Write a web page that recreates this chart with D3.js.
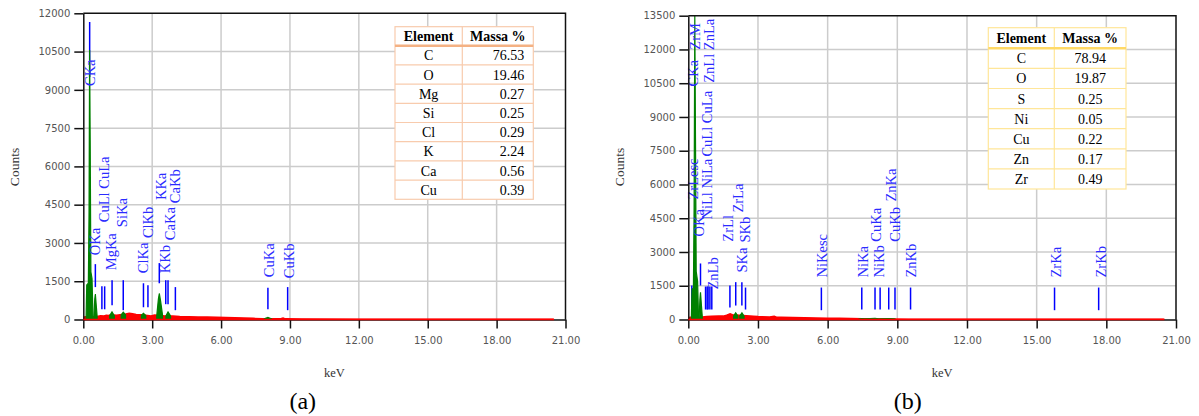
<!DOCTYPE html>
<html>
<head>
<meta charset="utf-8">
<script src="https://cdn.jsdelivr.net/npm/d3@7"></script>
<style>
  body { margin: 0; background: #fff; }
  svg { display: block; }
</style>
</head>
<body>
<svg id="fig" width="1199" height="416"></svg>
<script>
'use strict';

// ---- shared axis values ----
var xTicks = [0, 3, 6, 9, 12, 15, 18, 21];
var leftYTicks = [0, 1500, 3000, 4500, 6000, 7500, 9000, 10500, 12000];
var rightYTicks = [0, 1500, 3000, 4500, 6000, 7500, 9000, 10500, 12000, 13500];

// ---- (a) spectrum: background channels [keV, counts] ----
var leftBackground = [[0.03, 0], [0.07, 110], [0.6, 120], [0.75, 150], [0.9, 140], [1.0, 170], [1.1, 160],
  [1.2, 190], [1.45, 170], [1.6, 190], [1.85, 215], [2.0, 240], [2.15, 225], [2.3, 200], [2.5, 190],
  [2.8, 160], [2.95, 140], [3.1, 175], [3.5, 150], [3.9, 140], [4.2, 120], [4.6, 110], [5.0, 100],
  [5.4, 95], [5.8, 85], [6.2, 75], [6.6, 70], [7.0, 55], [7.4, 45], [7.8, 30], [8.6, 28], [8.7, 60],
  [8.8, 25], [9.5, 15], [12, 10], [20.45, 8], [20.5, 0]];
// ---- (a) identified peaks ----
var leftPeaks = [
  [[0.12, 0], [0.15, 1350], [0.22, 1420], [0.25, 4200], [0.275, 10560], [0.3, 7000], [0.33, 1870], [0.38, 1600], [0.42, 150]],
  [[0.46, 150], [0.5, 800], [0.525, 1000], [0.56, 600], [0.6, 150]],
  [[1.15, 150], [1.25, 300], [1.35, 150]],
  [[1.65, 180], [1.74, 285], [1.84, 190]],
  [[2.53, 170], [2.62, 240], [2.72, 160]],
  [[3.2, 160], [3.27, 800], [3.31, 1020], [3.37, 700], [3.45, 170]],
  [[3.6, 150], [3.69, 300], [3.8, 140]],
  [[7.88, 25], [8.04, 80], [8.2, 25]]
];
// ---- (a) KLM markers: energy, low / high counts ----
var leftMarkerEnergy = [0.277, 0.525, 0.81, 0.93, 1.253, 1.74, 2.62, 2.815, 3.31, 3.59, 3.69, 4.01, 8.04, 8.9];
var leftMarkerLow = [9500, 1270, 400, 400, 560, 365, 480, 480, 1420, 600, 600, 365, 400, 365];
var leftMarkerHigh = [11660, 2170, 1300, 1300, 1540, 1540, 1420, 1345, 2210, 1540, 1540, 1270, 1240, 1270];
// ---- (a) marker labels ----
var leftLabelText = ["CKa", "OKa", "CuLl CuLa", "MgKa", "SiKa", "ClKa", "ClKb", "KKa", "KKb", "CaKa", "CaKb", "CuKa", "CuKb"];
var leftLabelEnergy = [0.27, 0.51, 0.9, 1.21, 1.69, 2.6, 2.83, 3.37, 3.55, 3.79, 4.0, 8.07, 8.94];
var leftLabelCount = [9150, 2520, 3815, 1930, 3620, 1815, 3190, 4680, 1815, 3110, 4560, 1660, 1620];
// ---- (a) table ----
var leftElements = ["C", "O", "Mg", "Si", "Cl", "K", "Ca", "Cu"];
var leftMass = [76.53, 19.46, 0.27, 0.25, 0.29, 2.24, 0.56, 0.39];

// ---- (b) spectrum ----
var rightBackground = [[0.03, 0], [0.07, 100], [0.6, 110], [0.8, 130], [1.0, 150], [1.3, 160], [1.5, 150],
  [1.65, 190], [1.8, 250], [1.9, 210], [2.2, 190], [2.5, 170], [2.8, 150], [3.0, 130], [3.5, 110],
  [3.7, 140], [3.8, 105], [4.0, 100], [4.5, 90], [5.0, 80], [5.5, 70], [6.0, 60], [6.5, 55], [7.0, 45],
  [7.5, 35], [8.5, 25], [9.5, 15], [12, 10], [20.45, 8], [20.5, 0]];
var rightPeaks = [
  [[0.13, 0], [0.16, 1330], [0.22, 1400], [0.25, 5000], [0.28, 13500], [0.31, 8000], [0.34, 2145], [0.4, 1700], [0.44, 150]],
  [[0.47, 150], [0.5, 900], [0.525, 1210], [0.56, 700], [0.6, 150]],
  [[1.95, 150], [2.04, 300], [2.13, 160]],
  [[2.22, 160], [2.31, 300], [2.4, 150]],
  [[7.35, 20], [7.47, 45], [7.6, 25], [8.04, 50], [8.2, 25], [8.63, 40], [8.9, 25]]
];
var rightMarkerEnergy = [0.151, 0.525, 0.743, 0.811, 0.851, 0.93, 1.012, 1.792, 2.042, 2.307, 2.464,
  5.73, 7.47, 8.04, 8.26, 8.63, 8.9, 9.57, 15.77, 17.67];
var rightMarkerLow = [530, 1510, 444, 444, 444, 444, 444, 530, 620, 620, 444,
  413, 444, 444, 444, 444, 444, 444, 413, 413];
var rightMarkerHigh = [1510, 2490, 1465, 1465, 1465, 1465, 1465, 1510, 1660, 1660, 1420,
  1420, 1420, 1420, 1420, 1420, 1420, 1420, 1420, 1420];
var rightLabelText = ["ZrM", "ZnLl ZnLa", "CKa", "CuLl CuLa", "ZrLesc", "NiLl NiLa", "OKa", "ZnLb",
  "ZrLl", "ZrLa", "SKa", "SKb", "NiKesc", "NiKa", "NiKb", "CuKa", "CuKb", "ZnKa", "ZnKb", "ZrKa", "ZrKb"];
var rightLabelEnergy = [0.3, 0.9, 0.2, 0.81, 0.2, 0.8, 0.46, 1.07,
  1.72, 2.13, 2.32, 2.45, 5.77, 7.5, 8.2, 8.09, 8.89, 8.72, 9.58, 15.81, 17.76];
var rightLabelCount = [11990, 10520, 10350, 7240, 5330, 4440, 3690, 1330,
  3460, 4750, 2090, 3420, 1865, 1865, 1865, 3460, 3460, 5240, 1865, 1865, 1865];
var rightElements = ["C", "O", "S", "Ni", "Cu", "Zn", "Zr"];
var rightMass = [78.94, 19.87, 0.25, 0.05, 0.22, 0.17, 0.49];

var svg = d3.select('#fig');
var serif = '"Liberation Serif", "Times New Roman", serif';

function drawSpectrum(o) {
  var x = d3.scaleLinear().domain([0, 21]).range([o.left, o.right]);
  var y = d3.scaleLinear().domain([0, o.yMax]).range([o.bottom, o.top]);
  var g = svg.append('g');

  g.append('clipPath').attr('id', o.id + '-clip')
    .append('rect').attr('x', o.left).attr('y', o.top)
    .attr('width', o.right - o.left).attr('height', o.bottom - o.top);

  // grid
  g.selectAll('.vgrid').data(xTicks.slice(1, -1)).enter().append('line')
    .attr('x1', x).attr('x2', x).attr('y1', o.top).attr('y2', o.bottom)
    .attr('stroke', '#cccccc').attr('stroke-width', 1.5);
  g.selectAll('.hgrid').data(o.yTicks.slice(1, -1)).enter().append('line')
    .attr('x1', o.left).attr('x2', o.right).attr('y1', y).attr('y2', y)
    .attr('stroke', '#cccccc').attr('stroke-width', 1.5);

  // marker lines
  g.selectAll('.marker').data(o.markerEnergy).enter().append('line')
    .attr('x1', function(d) { return x(d); })
    .attr('x2', function(d) { return x(d); })
    .attr('y1', function(d, i) { return y(o.markerLow[i]); })
    .attr('y2', function(d, i) { return y(o.markerHigh[i]); })
    .attr('stroke', '#0000ff').attr('stroke-width', 1.5);

  var area = d3.area()
    .x(function(d) { return x(d[0]); })
    .y0(y(0))
    .y1(function(d) { return y(d[1]); });

  var spec = g.append('g').attr('clip-path', 'url(#' + o.id + '-clip)');
  spec.append('path').datum(o.background).attr('d', area)
    .attr('fill', '#ff0000').attr('stroke', '#ff0000').attr('stroke-width', 1.5);
  spec.selectAll('.peak').data(o.peaks).enter().append('path')
    .attr('d', area)
    .attr('fill', '#008000').attr('stroke', '#008000').attr('stroke-width', 1.2);

  // labels
  g.selectAll('.lbl').data(o.labelText).enter().append('text')
    .attr('transform', function(d, i) {
      return 'translate(' + x(o.labelEnergy[i]) + ',' + y(o.labelCount[i]) + ') rotate(-90)';
    })
    .attr('dy', '0.35em')
    .attr('font-family', serif).attr('font-size', 14.5)
    .attr('fill', '#2b2bff')
    .text(function(d) { return d; });

  // axes
  var xAxis = d3.axisBottom(x).tickValues(xTicks).tickFormat(d3.format('.2f'))
    .tickSize(9).tickSizeOuter(0).tickPadding(8);
  var yAxis = d3.axisLeft(y).tickValues(o.yTicks).tickFormat(d3.format('d'))
    .tickSize(9).tickSizeOuter(0).tickPadding(4);
  var ax = g.append('g').attr('transform', 'translate(0,' + o.bottom + ')').call(xAxis);
  var ay = g.append('g').attr('transform', 'translate(' + o.left + ',0)').call(yAxis);
  [ax, ay].forEach(function(a) {
    a.select('.domain').attr('stroke', '#111').attr('stroke-width', 1.5);
    a.selectAll('.tick line').attr('stroke', '#111').attr('stroke-width', 1.5);
    a.selectAll('.tick text').attr('fill', '#555')
      .attr('font-family', '"DejaVu Sans", Verdana, sans-serif').attr('font-size', 10);
  });
  // red trace runs over the baseline
  g.append('line').attr('x1', x(0)).attr('x2', x(20.5)).attr('y1', y(0)).attr('y2', y(0))
    .attr('stroke', '#ff0000').attr('stroke-width', 1.5);

  // frame top/right
  g.append('path')
    .attr('d', 'M' + o.left + ',' + o.top + 'H' + o.right + 'V' + o.bottom)
    .attr('fill', 'none').attr('stroke', '#111').attr('stroke-width', 1.5);

  // axis titles
  g.append('text')
    .attr('transform', 'translate(' + (o.left - 64) + ',' + 167 + ') rotate(-90)')
    .attr('text-anchor', 'middle').attr('font-family', serif).attr('font-size', 13.5)
    .attr('fill', '#333').text('Counts');
  g.append('text')
    .attr('x', (o.left + o.right) / 2 + 10).attr('y', 377)
    .attr('text-anchor', 'middle').attr('font-family', serif).attr('font-size', 12.5)
    .attr('fill', '#333').text('keV');
  g.append('text')
    .attr('x', o.left + 219.5).attr('y', 409)
    .attr('text-anchor', 'middle').attr('font-family', serif).attr('font-size', 24)
    .attr('fill', '#000').text(o.caption);

  // composition table
  var t = o.table;
  var tg = g.append('g').attr('font-family', serif).attr('font-size', 14).attr('fill', '#000');
  var rowsH = t.rowH * t.elements.length;
  tg.append('rect').attr('x', t.x).attr('y', t.y).attr('width', t.w).attr('height', t.headH + rowsH)
    .attr('fill', '#fff').attr('stroke', t.border).attr('stroke-width', 1.2);
  tg.selectAll('.rowline').data(t.elements.slice(1)).enter().append('line')
    .attr('x1', t.x).attr('x2', t.x + t.w)
    .attr('y1', function(d, i) { return t.y + t.headH + (i + 1) * t.rowH; })
    .attr('y2', function(d, i) { return t.y + t.headH + (i + 1) * t.rowH; })
    .attr('stroke', t.border).attr('stroke-width', 1.2);
  tg.append('line').attr('x1', t.x + t.c1).attr('x2', t.x + t.c1)
    .attr('y1', t.y).attr('y2', t.y + t.headH + rowsH)
    .attr('stroke', t.border).attr('stroke-width', 1.2);
  tg.append('line').attr('x1', t.x).attr('x2', t.x + t.w)
    .attr('y1', t.y + t.headH).attr('y2', t.y + t.headH)
    .attr('stroke', t.headLine).attr('stroke-width', 2.5);
  tg.append('text').attr('x', t.x + t.c1 / 2).attr('y', t.y + t.headH / 2 + 5)
    .attr('text-anchor', 'middle').attr('font-weight', 'bold').text('Element');
  tg.append('text').attr('x', t.x + (t.c1 + t.w) / 2).attr('y', t.y + t.headH / 2 + 5)
    .attr('text-anchor', 'middle').attr('font-weight', 'bold').text('Massa %');
  tg.selectAll('.el').data(t.elements).enter().append('text')
    .attr('x', t.x + t.c1 / 2)
    .attr('y', function(d, i) { return t.y + t.headH + (i + 0.5) * t.rowH + 5; })
    .attr('text-anchor', 'middle').text(function(d) { return d; });
  tg.selectAll('.ms').data(t.mass).enter().append('text')
    .attr('x', t.alignRight ? t.x + t.w - 9 : t.x + (t.c1 + t.w) / 2)
    .attr('y', function(d, i) { return t.y + t.headH + (i + 0.5) * t.rowH + 5; })
    .attr('text-anchor', t.alignRight ? 'end' : 'middle')
    .text(function(d) { return d3.format('.2f')(d); });
}

drawSpectrum({
  id: 'a', caption: '(a)',
  left: 83.3, right: 565.5, top: 13.3, bottom: 319.5, yMax: 12000, yTicks: leftYTicks,
  background: leftBackground, peaks: leftPeaks,
  markerEnergy: leftMarkerEnergy, markerLow: leftMarkerLow, markerHigh: leftMarkerHigh,
  labelText: leftLabelText, labelEnergy: leftLabelEnergy, labelCount: leftLabelCount,
  table: { x: 395, y: 26.7, w: 138.3, c1: 67.3, headH: 19, rowH: 19.2,
    border: '#f8cbad', headLine: '#f4b183', alignRight: true,
    elements: leftElements, mass: leftMass }
});

drawSpectrum({
  id: 'b', caption: '(b)',
  left: 688.3, right: 1176, top: 15.7, bottom: 319.5, yMax: 13500, yTicks: rightYTicks,
  background: rightBackground, peaks: rightPeaks,
  markerEnergy: rightMarkerEnergy, markerLow: rightMarkerLow, markerHigh: rightMarkerHigh,
  labelText: rightLabelText, labelEnergy: rightLabelEnergy, labelCount: rightLabelCount,
  table: { x: 988.3, y: 27.7, w: 137.7, c1: 66, headH: 20.6, rowH: 20.1,
    border: '#ffe699', headLine: '#ffd966', alignRight: false,
    elements: rightElements, mass: rightMass }
});
</script>
</body>
</html>
